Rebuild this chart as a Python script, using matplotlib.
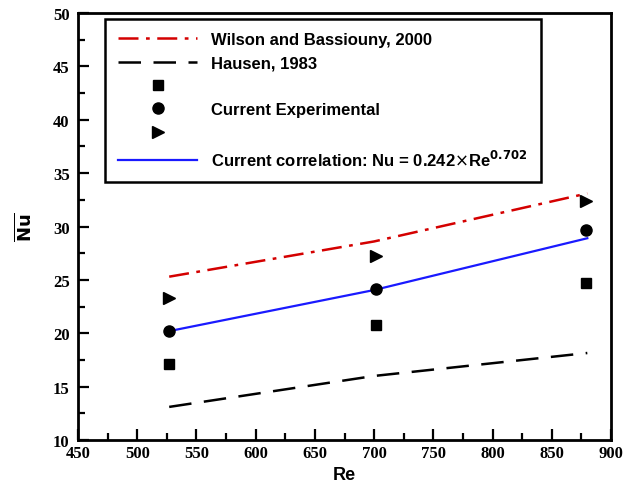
import matplotlib.pyplot as plt
from matplotlib.lines import Line2D
from matplotlib.ticker import MultipleLocator

re_pts = [527, 702, 879]
nu_square = [17.1, 20.8, 24.7]
nu_circle = [20.2, 24.1, 29.7]
nu_triangle = [23.3, 27.2, 32.4]

re_line = [527, 700, 880]
nu_wilson = [25.3, 28.6, 33.1]
nu_hausen = [13.1, 16.0, 18.15]
nu_corr = [20.2, 24.05, 28.9]

fig = plt.figure(figsize=(6.24, 4.85), dpi=100)
ax = fig.add_axes([78 / 624, 44 / 485, 533 / 624, 427 / 485])

ax.plot(re_line, nu_wilson, color="#d40000", lw=1.8, dashes=(8, 3, 1.5, 3))
ax.plot(re_line, nu_hausen, color="black", lw=1.8, dashes=(9, 5))
ax.plot(re_line, nu_corr, color="#1a1aff", lw=1.6)
ax.plot(re_pts, nu_square, "s", color="black", ms=7)
ax.plot(re_pts, nu_circle, "o", color="black", ms=8)
ax.plot(re_pts, nu_triangle, ">", color="black", ms=8)

ax.set_xlim(450, 900)
ax.set_ylim(10, 50)
ax.xaxis.set_major_locator(MultipleLocator(50))
ax.xaxis.set_minor_locator(MultipleLocator(25))
ax.yaxis.set_major_locator(MultipleLocator(5))
ax.yaxis.set_minor_locator(MultipleLocator(2.5))
ax.tick_params(which="both", direction="in", width=1.6)
ax.tick_params(which="major", length=8)
ax.tick_params(which="minor", length=5)
ax.tick_params(axis="y", pad=6)
for lab in ax.get_xticklabels() + ax.get_yticklabels():
    lab.set_family("Liberation Serif")
    lab.set_fontweight("bold")
    lab.set_fontsize(12)
for s in ax.spines.values():
    s.set_linewidth(2)

ax.set_xlabel("Re", family="Liberation Sans", fontweight="bold", fontsize=13, labelpad=4)
ax.set_ylabel(r"$\overline{\mathbf{Nu}}$", fontsize=13, labelpad=13)

handles = [
    Line2D([], [], color="#d40000", lw=1.8, dashes=(8, 3, 1.5, 3)),
    Line2D([], [], color="black", lw=1.8, dashes=(9, 5)),
    Line2D([], [], ls="none", marker="s", color="black", ms=7),
    Line2D([], [], ls="none", marker="o", color="black", ms=8),
    Line2D([], [], ls="none", marker=">", color="black", ms=8),
    Line2D([], [], color="#1a1aff", lw=1.6),
]
labels = [
    "Wilson and Bassiouny, 2000",
    "Hausen, 1983",
    " ",
    "Current Experimental",
    " ",
    r"Current correlation: Nu = 0.242$\times$Re$^{\mathbf{0.702}}$",
]
leg = ax.legend(handles, labels, loc="upper left", bbox_to_anchor=(0.05, 0.986),
                borderaxespad=0,
                prop={"family": "Liberation Sans", "weight": "bold", "size": 12},
                handlelength=4.75, handletextpad=0.85, labelspacing=0.5,
                borderpad=0.8, fancybox=False, edgecolor="black", framealpha=1)
leg.get_frame().set_linewidth(1.8)

fig.savefig("out.png", dpi=100)
